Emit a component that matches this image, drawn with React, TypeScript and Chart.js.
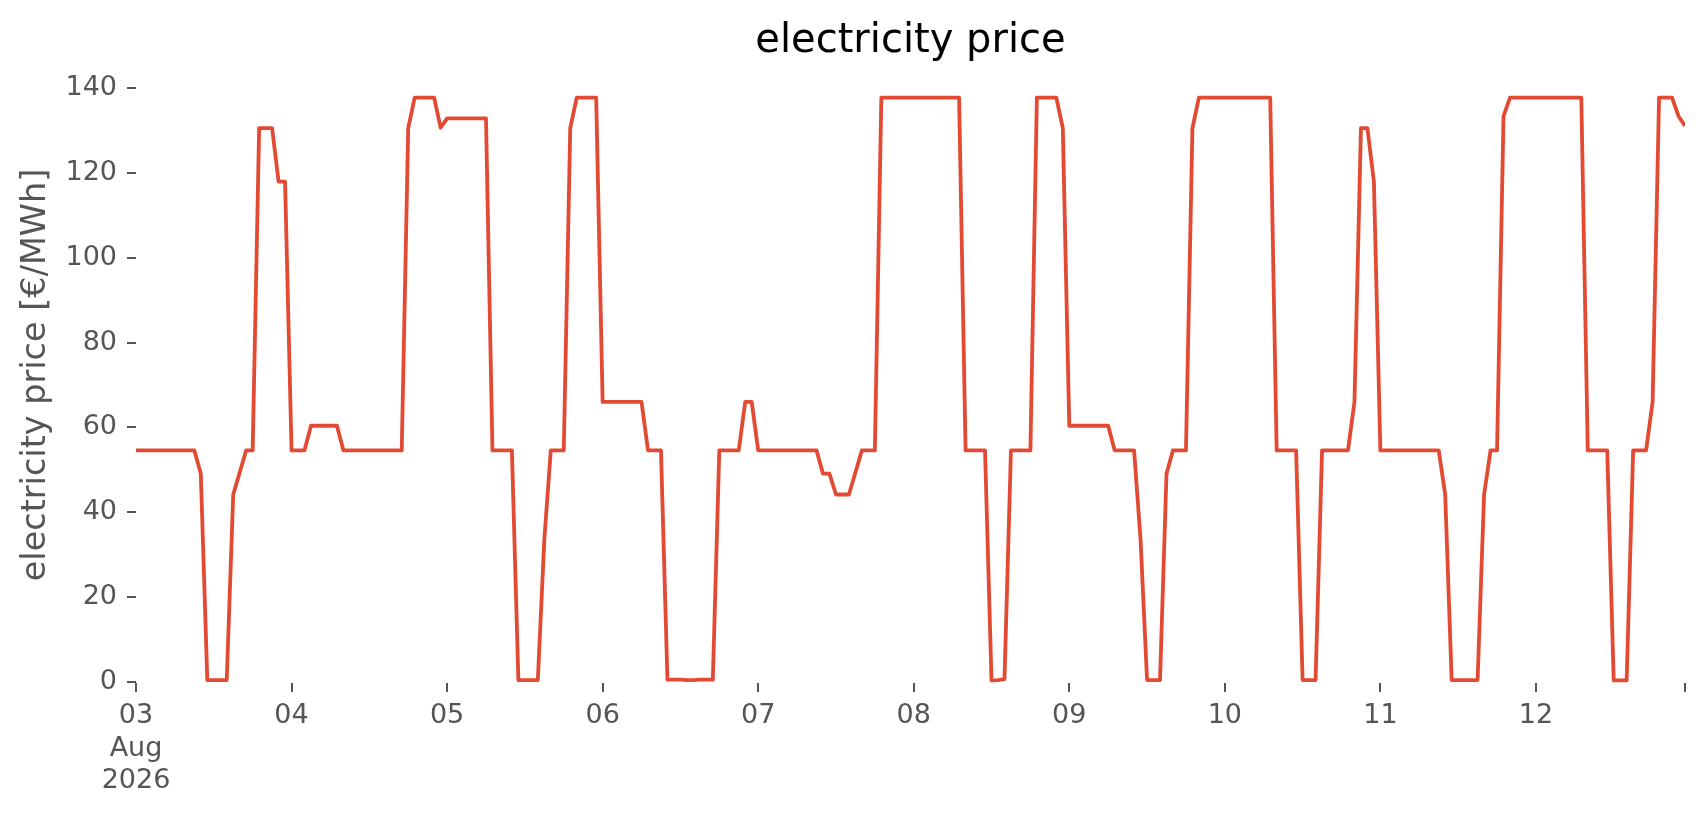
import React, { useEffect, useRef } from 'react';
import { Chart, registerables } from 'chart.js';

Chart.register(...registerables);

const TITLE = 'electricity price';
const Y_LABEL = 'electricity price [€/MWh]';
const DAY_LABELS = ['03', '04', '05', '06', '07', '08', '09', '10', '11', '12'];
const FIRST_DAY_SUBLABELS = ['Aug', '2026'];
const Y_TICKS = [0, 20, 40, 60, 80, 100, 120, 140];
const HOURS_PER_DAY = 24;

// hourly prices [€/MWh], one array per day (03 Aug 2026 .. 12 Aug 2026)
const price_03 = [54.6, 54.6, 54.6, 54.6, 54.6, 54.6, 54.6, 54.6, 54.6, 54.6, 49.1, 0.5, 0.5, 0.5, 0.5, 44.2, 49.4, 54.6, 54.6, 130.5, 130.5, 130.5, 117.9, 117.9];
const price_04 = [54.6, 54.6, 54.6, 60.4, 60.4, 60.4, 60.4, 60.4, 54.6, 54.6, 54.6, 54.6, 54.6, 54.6, 54.6, 54.6, 54.6, 54.6, 130.5, 137.7, 137.7, 137.7, 137.7, 130.6];
const price_05 = [132.8, 132.8, 132.8, 132.8, 132.8, 132.8, 132.8, 54.6, 54.6, 54.6, 54.6, 0.5, 0.5, 0.5, 0.5, 33.5, 54.6, 54.6, 54.6, 130.5, 137.7, 137.7, 137.7, 137.7];
const price_06 = [66.0, 66.0, 66.0, 66.0, 66.0, 66.0, 66.0, 54.6, 54.6, 54.6, 0.6, 0.6, 0.6, 0.5, 0.5, 0.6, 0.6, 0.6, 54.6, 54.6, 54.6, 54.6, 66.0, 66.0];
const price_07 = [54.6, 54.6, 54.6, 54.6, 54.6, 54.6, 54.6, 54.6, 54.6, 54.6, 49.1, 49.1, 44.2, 44.2, 44.2, 49.4, 54.6, 54.6, 54.6, 137.7, 137.7, 137.7, 137.7, 137.7];
const price_08 = [137.7, 137.7, 137.7, 137.7, 137.7, 137.7, 137.7, 137.7, 54.6, 54.6, 54.6, 54.6, 0.4, 0.5, 0.7, 54.6, 54.6, 54.6, 54.6, 137.7, 137.7, 137.7, 137.7, 130.5];
const price_09 = [60.4, 60.4, 60.4, 60.4, 60.4, 60.4, 60.4, 54.6, 54.6, 54.6, 54.6, 33.5, 0.5, 0.5, 0.5, 49.1, 54.6, 54.6, 54.6, 130.5, 137.7, 137.7, 137.7, 137.7];
const price_10 = [137.7, 137.7, 137.7, 137.7, 137.7, 137.7, 137.7, 137.7, 54.6, 54.6, 54.6, 54.6, 0.5, 0.5, 0.5, 54.6, 54.6, 54.6, 54.6, 54.6, 66.0, 130.5, 130.5, 117.9];
const price_11 = [54.6, 54.6, 54.6, 54.6, 54.6, 54.6, 54.6, 54.6, 54.6, 54.6, 44.2, 0.5, 0.5, 0.5, 0.5, 0.5, 44.2, 54.6, 54.6, 133.3, 137.7, 137.7, 137.7, 137.7];
const price_12 = [137.7, 137.7, 137.7, 137.7, 137.7, 137.7, 137.7, 137.7, 54.6, 54.6, 54.6, 54.6, 0.4, 0.4, 0.4, 54.6, 54.6, 54.6, 66.0, 137.7, 137.7, 137.7, 133.3, 131.0];

const PRICES = [
  ...price_03, ...price_04, ...price_05, ...price_06, ...price_07,
  ...price_08, ...price_09, ...price_10, ...price_11, ...price_12,
];

const FONT = 'DejaVu Sans';
const TEXT_GRAY = '#555555';
const LINE_RED = '#E24A33';

export default function App() {
  const ref = useRef<HTMLCanvasElement>(null);

  useEffect(() => {
    const points = PRICES.map((y, i) => ({ x: i, y }));
    const lastHour = PRICES.length - 1;
    const dayTicks = DAY_LABELS.map((_, i) => i * HOURS_PER_DAY);
    const xTicks = [...dayTicks, lastHour];

    const chart = new Chart(ref.current as HTMLCanvasElement, {
      type: 'line',
      data: {
        datasets: [
          {
            data: points,
            borderColor: LINE_RED,
            borderWidth: 3.8,
            pointRadius: 0,
            tension: 0,
            fill: false,
            borderJoinStyle: 'round',
          },
        ],
      },
      options: {
        animation: false,
        responsive: true,
        maintainAspectRatio: false,
        layout: { padding: { left: 0, right: 21, top: 0, bottom: 0 } },
        plugins: {
          legend: { display: false },
          tooltip: { enabled: false },
          title: {
            display: true,
            fullSize: false,
            text: TITLE,
            color: '#000000',
            font: { family: FONT, size: 40, weight: 'normal', lineHeight: 1.2 },
            padding: { top: 18, bottom: 1 },
          },
        },
        scales: {
          x: {
            type: 'linear',
            min: 0,
            max: lastHour,
            afterBuildTicks: (s: any) => {
              s.ticks = xTicks.map((v) => ({ value: v }));
            },
            afterFit: (s: any) => {
              s.height = 132;
            },
            border: { display: false },
            grid: {
              display: true,
              drawOnChartArea: false,
              drawTicks: true,
              tickLength: 9,
              color: TEXT_GRAY,
              lineWidth: 2,
            },
            ticks: {
              autoSkip: false,
              maxRotation: 0,
              minRotation: 0,
              padding: 8,
              color: TEXT_GRAY,
              font: { family: FONT, size: 27, lineHeight: 1.2 },
              callback: (value: any) => {
                const v = Number(value);
                if (v % HOURS_PER_DAY !== 0) return '';
                const idx = v / HOURS_PER_DAY;
                const label = DAY_LABELS[idx];
                if (label === undefined) return '';
                return idx === 0 ? [label, ...FIRST_DAY_SUBLABELS] : label;
              },
            },
          },
          y: {
            type: 'linear',
            min: -0.2,
            max: 144.9,
            afterBuildTicks: (s: any) => {
              s.ticks = Y_TICKS.map((v) => ({ value: v }));
            },
            afterFit: (s: any) => {
              s.width = 136;
            },
            border: { display: false },
            grid: {
              display: true,
              drawOnChartArea: false,
              drawTicks: true,
              tickLength: 9,
              color: TEXT_GRAY,
              lineWidth: 2,
            },
            ticks: {
              padding: 10,
              color: TEXT_GRAY,
              font: { family: FONT, size: 27 },
            },
            title: {
              display: true,
              text: Y_LABEL,
              color: TEXT_GRAY,
              font: { family: FONT, size: 33.5, lineHeight: 1.2 },
              padding: { top: 16, bottom: 0 },
            },
          },
        },
      },
    });
    return () => chart.destroy();
  }, []);

  return (
    <div
      style={{
        position: 'fixed',
        left: 0,
        top: 0,
        width: 1706,
        height: 815,
        background: '#ffffff',
      }}
    >
      <canvas ref={ref} />
    </div>
  );
}
